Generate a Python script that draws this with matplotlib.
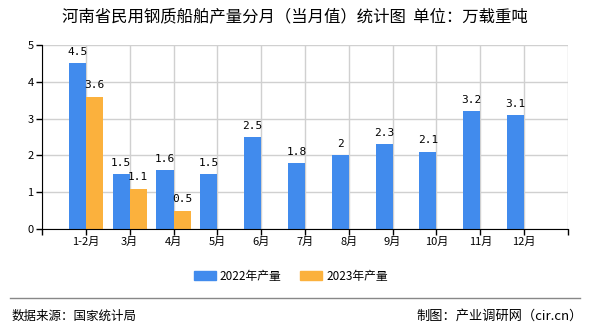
import numpy as np
import matplotlib
matplotlib.use('Agg')
import matplotlib.pyplot as plt
from matplotlib.patches import Patch
from matplotlib.lines import Line2D

plt.rcParams['font.family'] = ['Noto Sans CJK SC', 'DejaVu Sans']

months = ['1-2月', '3月', '4月', '5月', '6月', '7月', '8月', '9月', '10月', '11月', '12月']
output_2022 = [4.5, 1.5, 1.6, 1.5, 2.5, 1.8, 2, 2.3, 2.1, 3.2, 3.1]
output_2023 = [3.6, 1.1, 0.5]
labels_2022 = ['4.5', '1.5', '1.6', '1.5', '2.5', '1.8', '2', '2.3', '2.1', '3.2', '3.1']
labels_2023 = ['3.6', '1.1', '0.5']

blue = '#418bed'
orange = '#fbb13d'

fig = plt.figure(figsize=(5.9, 3.3), dpi=100)
ax = fig.add_axes([0.0712, 0.306, 0.8915, 0.5576])

x = np.arange(len(months))
w = 0.39
ax.bar(x - w / 2, output_2022, width=w, color=blue, zorder=3)
ax.bar(np.arange(len(output_2023)) + w / 2, output_2023, width=w, color=orange, zorder=3)

for i, v in enumerate(output_2022):
    ax.text(i - w / 2, v + 0.17, labels_2022[i], ha='center', va='bottom',
            fontsize=8, family='DejaVu Sans Mono', zorder=4)
for i, v in enumerate(output_2023):
    ax.text(i + w / 2, v + 0.17, labels_2023[i], ha='center', va='bottom',
            fontsize=8, family='DejaVu Sans Mono', zorder=4)

ax.set_xlim(-1, len(months))
ax.set_ylim(0, 5)
ax.set_xticks(np.arange(-1, len(months) + 1))
ax.set_xticklabels([''] + months + [''])
ax.set_yticks(range(0, 6))
ax.tick_params(axis='x', length=4, width=1, labelsize=8, pad=2, direction='out')
ax.tick_params(axis='y', length=4, width=1, labelsize=8, pad=2, direction='out')
ax.grid(True, color='#d0d0d0', linewidth=1, zorder=0)
for s in ['top', 'right']:
    ax.spines[s].set_visible(False)
ax.spines['left'].set_color('black')
ax.spines['bottom'].set_color('black')
ax.spines['left'].set_zorder(5)
ax.spines['bottom'].set_zorder(5)

fig.text(0.5, 0.948, '河南省民用钢质船舶产量分月（当月值）统计图  单位：万载重吨',
         ha='center', va='center', fontsize=11.8)

handles = [Patch(color=blue), Patch(color=orange)]
fig.legend(handles, ['2022年产量', '2023年产量'], loc='center', bbox_to_anchor=(0.493, 0.163),
           ncol=2, frameon=False, fontsize=8.5, handlelength=1.85, handleheight=0.8,
           columnspacing=1.6, handletextpad=0.35)

fig.add_artist(Line2D([0.017, 0.983], [0.097, 0.097], color='#888888', linewidth=1))
fig.text(0.02, 0.042, '数据来源：国家统计局', ha='left', va='center', fontsize=9)
fig.text(0.988, 0.042, '制图：产业调研网（cir.cn）', ha='right', va='center', fontsize=9.5)

fig.savefig('out.png', dpi=100)
